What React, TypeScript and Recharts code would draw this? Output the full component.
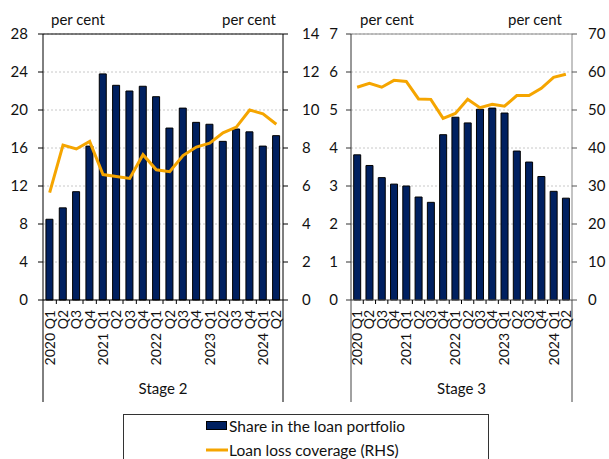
import React from "react";
import {
  ComposedChart,
  Bar,
  Line,
  XAxis,
  YAxis,
  CartesianGrid,
  ReferenceLine,
} from "recharts";

// quarterly categories, 2020 Q1 – 2024 Q2
const quarters: string[] = [
  "2020 Q1", "2020 Q2", "2020 Q3", "2020 Q4",
  "2021 Q1", "2021 Q2", "2021 Q3", "2021 Q4",
  "2022 Q1", "2022 Q2", "2022 Q3", "2022 Q4",
  "2023 Q1", "2023 Q2", "2023 Q3", "2023 Q4",
  "2024 Q1", "2024 Q2",
];

// Stage 2: share in portfolio (LHS) and loss coverage (RHS)
const stage2Share: number[] = [
  8.5, 9.7, 11.4, 16.2, 23.8, 22.6, 22.0, 22.5, 21.4,
  18.1, 20.2, 18.7, 18.5, 16.7, 18.0, 17.7, 16.2, 17.3,
];
const stage2Coverage: number[] = [
  5.65, 8.15, 7.95, 8.35, 6.6, 6.5, 6.4, 7.65, 6.85,
  6.75, 7.6, 8.05, 8.25, 8.8, 9.1, 10.0, 9.8, 9.25,
];

// Stage 3: share in portfolio (LHS) and loss coverage (RHS)
const stage3Share: number[] = [
  3.82, 3.54, 3.22, 3.05, 3.0, 2.71, 2.57, 4.35, 4.81,
  4.66, 5.02, 5.05, 4.92, 3.92, 3.63, 3.25, 2.86, 2.68,
];
const stage3Coverage: number[] = [
  56.0, 57.0, 56.0, 57.8, 57.5, 52.9, 52.8, 47.8, 49.1,
  52.8, 50.6, 51.5, 51.0, 53.8, 53.8, 55.7, 58.6, 59.4,
];

const stage2LeftTicks = [0, 4, 8, 12, 16, 20, 24, 28];
const stage2RightTicks = [0, 2, 4, 6, 8, 10, 12, 14];
const stage3LeftTicks = [0, 1, 2, 3, 4, 5, 6, 7];
const stage3RightTicks = [0, 10, 20, 30, 40, 50, 60, 70];

const NAVY = "#002060";
const ORANGE = "#F5A500";
const FONT = "Lato, 'Open Sans', sans-serif";

const stage2Data = quarters.map((q, i) => ({
  q,
  share: stage2Share[i],
  coverage: stage2Coverage[i],
}));
const stage3Data = quarters.map((q, i) => ({
  q,
  share: stage3Share[i],
  coverage: stage3Coverage[i],
}));

// category label: year only on Q1, with boundary ticks and side rules
const makeTick = (band: number, count: number, edge: string, stage: string) =>
  (props: any) => {
    const { x, y, payload, index } = props;
    const half = band / 2;
    const value: string = payload.value;
    const label = value.endsWith("Q1") ? value : value.slice(5);
    const last = index === count - 1;
    return (
      <g>
        <line x1={x - half} x2={x - half} y1={y} y2={index === 0 ? y + 102 : y + 4} stroke={index === 0 ? edge : "#000"} />
        {last && <line x1={x + half} x2={x + half} y1={y} y2={y + 102} stroke={edge} />}
        <text
          transform={`translate(${x + 5},${y + 10}) rotate(-90)`}
          textAnchor="end"
          fontSize={14}
          fontFamily={FONT}
          fill="#111"
        >
          {label}
        </text>
        {index === 0 && (
          <text x={x - half + (band * count) / 2} y={y + 94} textAnchor="middle" fontSize={15} fontFamily={FONT} fill="#111">
            {stage}
          </text>
        )}
      </g>
    );
  };

const tickStyle = { fontSize: 15, fontFamily: FONT, fill: "#111" };

const Stage2Chart = () => (
  <ComposedChart
    width={330}
    height={459}
    data={stage2Data}
    margin={{ top: 34, right: 7, bottom: 0, left: 0 }}
    barCategoryGap="22%"
  >
    <CartesianGrid vertical={false} yAxisId="l" stroke="#c8c8c8" strokeDasharray="2 2" />
    <XAxis
      dataKey="q"
      height={159}
      interval={0}
      tickLine={false}
      tickSize={0}
      tickMargin={0}
      axisLine={{ stroke: "#000" }}
      tick={makeTick(240 / 18, 18, "#000", "Stage 2")}
    />
    <YAxis
      yAxisId="l"
      width={43}
      domain={[0, 28]}
      ticks={stage2LeftTicks}
      tickSize={5}
      tickMargin={10}
      tick={tickStyle}
      axisLine={{ stroke: "#000" }}
      tickLine={{ stroke: "#000" }}
    />
    <YAxis
      yAxisId="r"
      orientation="right"
      width={40}
      domain={[0, 14]}
      ticks={stage2RightTicks}
      tickSize={5}
      tickMargin={14}
      tick={tickStyle}
      axisLine={{ stroke: "#000" }}
      tickLine={{ stroke: "#000" }}
    />
    <ReferenceLine yAxisId="l" y={28} stroke="#000" />
    <Bar yAxisId="l" dataKey="share" fill={NAVY} stroke="#000" strokeWidth={1} isAnimationActive={false} />
    <Line yAxisId="r" dataKey="coverage" type="linear" stroke={ORANGE} strokeWidth={3} dot={false} isAnimationActive={false} />
  </ComposedChart>
);

const Stage3Chart = () => (
  <ComposedChart
    width={309}
    height={459}
    data={stage3Data}
    margin={{ top: 34, right: 0, bottom: 0, left: 0 }}
    barCategoryGap="22%"
  >
    <CartesianGrid vertical={false} yAxisId="l" stroke="#c8c8c8" strokeDasharray="2 2" />
    <XAxis
      dataKey="q"
      height={159}
      interval={0}
      tickLine={false}
      tickSize={0}
      tickMargin={0}
      axisLine={{ stroke: "#555" }}
      tick={makeTick(221 / 18, 18, "#444", "Stage 3")}
    />
    <YAxis
      yAxisId="l"
      width={51}
      domain={[0, 7]}
      ticks={stage3LeftTicks}
      tickSize={5}
      tickMargin={8}
      tick={tickStyle}
      axisLine={{ stroke: "#333" }}
      tickLine={{ stroke: "#333" }}
    />
    <YAxis
      yAxisId="r"
      orientation="right"
      width={37}
      domain={[0, 70]}
      ticks={stage3RightTicks}
      tickSize={5}
      tickMargin={11}
      tick={tickStyle}
      axisLine={{ stroke: "#888" }}
      tickLine={{ stroke: "#555" }}
    />
    <ReferenceLine yAxisId="l" y={7} stroke="#888" />
    <Bar yAxisId="l" dataKey="share" fill={NAVY} stroke="#000" strokeWidth={1} isAnimationActive={false} />
    <Line yAxisId="r" dataKey="coverage" type="linear" stroke={ORANGE} strokeWidth={3} dot={false} isAnimationActive={false} />
  </ComposedChart>
);

const unit = (left: number): React.CSSProperties => ({
  position: "absolute",
  left,
  top: 12,
  fontSize: 15,
  lineHeight: "15px",
  fontFamily: FONT,
  color: "#111",
});

export default function App() {
  return (
    <div style={{ position: "absolute", left: 0, top: 0, width: 609, height: 459, overflow: "hidden", background: "#fff" }}>
      <div style={{ position: "absolute", left: 0, top: 0 }}>
        <Stage2Chart />
      </div>
      <div style={{ position: "absolute", left: 300, top: 0 }}>
        <Stage3Chart />
      </div>
      <div style={unit(51)}>per cent</div>
      <div style={unit(222)}>per cent</div>
      <div style={unit(360)}>per cent</div>
      <div style={unit(508)}>per cent</div>
      <div
        style={{
          position: "absolute",
          left: 123,
          top: 414,
          width: 364,
          height: 60,
          border: "1px solid #333",
          fontFamily: FONT,
          fontSize: 15.5,
          color: "#111",
        }}
      >
        <div style={{ position: "absolute", left: 82, top: 2, display: "flex", alignItems: "center", whiteSpace: "nowrap" }}>
          <svg width={22} height={10}>
            <rect x={0.5} y={0.5} width={20} height={8} fill={NAVY} stroke="#000" />
          </svg>
          <span style={{ marginLeft: 1 }}>Share in the loan portfolio</span>
        </div>
        <div style={{ position: "absolute", left: 82, top: 26, display: "flex", alignItems: "center", whiteSpace: "nowrap" }}>
          <svg width={22} height={10}>
            <line x1={0} x2={22} y1={5} y2={5} stroke={ORANGE} strokeWidth={3} />
          </svg>
          <span style={{ marginLeft: 1 }}>Loan loss coverage (RHS)</span>
        </div>
      </div>
    </div>
  );
}
